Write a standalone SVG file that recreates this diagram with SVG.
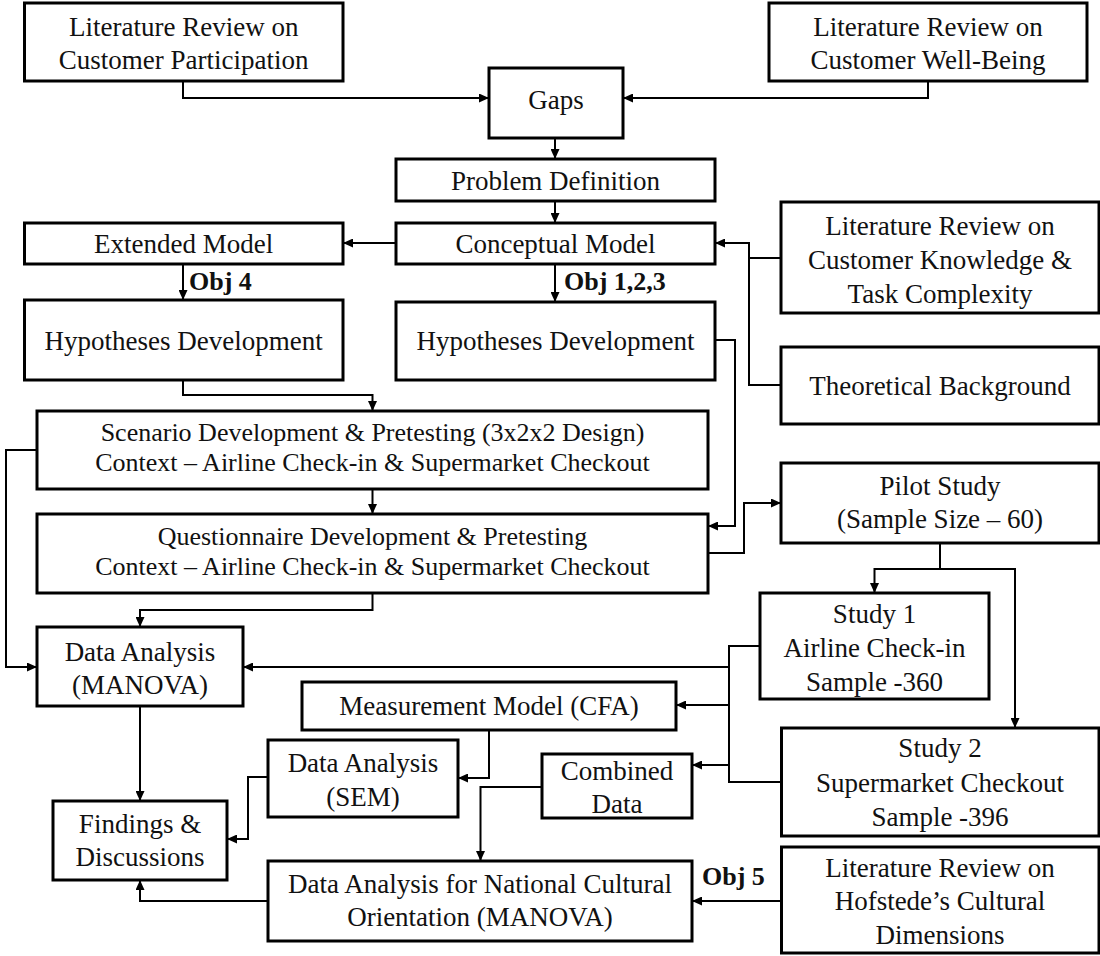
<svg xmlns="http://www.w3.org/2000/svg" width="1100" height="956" viewBox="0 0 1100 956">
  <style>
    .box { fill: #fff; stroke: #000; stroke-width: 3; }
    .lbl { font-family: "Liberation Serif", "Times New Roman", serif; font-size: 27px; fill: #111; text-anchor: middle; }
    .tight { font-size: 26px; }
    .obj { font-family: "Liberation Serif", "Times New Roman", serif; font-size: 26px; font-weight: bold; fill: #111; }
    .wire { fill: none; stroke: #000; stroke-width: 2; }
    .arrow { fill: none; stroke: #000; stroke-width: 2; marker-end: url(#head); }
  </style>
  <defs>
    <marker id="head" markerUnits="userSpaceOnUse" markerWidth="10" markerHeight="9" refX="10" refY="4.5" orient="auto">
      <path d="M0,0 L10,4.5 L0,9 Z" fill="#000"/>
    </marker>
  </defs>
  <rect width="1100" height="956" fill="#fff"/>

  <!-- connectors -->
  <g id="connectors">
    <path class="arrow" d="M183,81 V98 H489"/>
    <path class="arrow" d="M928,81 V98 H623"/>
    <path class="arrow" d="M555,138 V159"/>
    <path class="arrow" d="M555,201 V223"/>
    <path class="arrow" d="M396,243 H343"/>
    <path class="arrow" d="M183,264 V300"/>
    <path class="arrow" d="M555,264 V302"/>
    <path class="arrow" d="M781,258 H749 V243 H715"/>
    <path class="wire" d="M781,385 H749 V243"/>
    <path class="arrow" d="M183,380 V395 H372.5 V411"/>
    <path class="arrow" d="M372.5,489 V514"/>
    <path class="arrow" d="M715,340 H735 V526 H708"/>
    <path class="arrow" d="M708,553 H744 V503 H781"/>
    <path class="arrow" d="M940,543 V569 H874.5 V593"/>
    <path class="arrow" d="M940,569 H1015 V728"/>
    <path class="arrow" d="M37,450 H6 V667 H37"/>
    <path class="arrow" d="M372.5,593 V610 H140 V627"/>
    <path class="arrow" d="M760,646 H729 V667 H243"/>
    <path class="wire" d="M729,667 V782 H781.5"/>
    <path class="arrow" d="M729,705 H676"/>
    <path class="arrow" d="M729,765 H692"/>
    <path class="arrow" d="M489,730 V778 H458"/>
    <path class="arrow" d="M542,787 H480.5 V861"/>
    <path class="arrow" d="M140,706 V801"/>
    <path class="arrow" d="M268,777 H248 V839 H227"/>
    <path class="arrow" d="M268,901 H140 V880"/>
    <path class="arrow" d="M781.5,901 H692"/>
    <text class="obj" x="189" y="290">Obj 4</text>
    <text class="obj" x="564" y="290">Obj 1,2,3</text>
    <text class="obj" x="702" y="885">Obj 5</text>
  </g>

  <!-- nodes -->
  <g id="lit-participation">
    <rect class="box" x="24.5" y="3" width="318.5" height="78"/>
    <text class="lbl" x="183.7" y="36">Literature Review on</text>
    <text class="lbl" x="183.7" y="69">Customer Participation</text>
  </g>
  <g id="lit-wellbeing">
    <rect class="box" x="769" y="3" width="318" height="78"/>
    <text class="lbl" x="928" y="36">Literature Review on</text>
    <text class="lbl" x="928" y="69">Customer Well-Being</text>
  </g>
  <g id="gaps">
    <rect class="box" x="489" y="68" width="134" height="70"/>
    <text class="lbl" x="556" y="109">Gaps</text>
  </g>
  <g id="problem">
    <rect class="box" x="396" y="159" width="319" height="42"/>
    <text class="lbl" x="555.5" y="190">Problem Definition</text>
  </g>
  <g id="conceptual">
    <rect class="box" x="396" y="223" width="319" height="41"/>
    <text class="lbl" x="555.5" y="253">Conceptual Model</text>
  </g>
  <g id="extended">
    <rect class="box" x="24.5" y="223" width="318.5" height="41"/>
    <text class="lbl" x="183.7" y="253">Extended Model</text>
  </g>
  <g id="hypotheses-extended">
    <rect class="box" x="24.5" y="300" width="318.5" height="80"/>
    <text class="lbl" x="183.7" y="350">Hypotheses Development</text>
  </g>
  <g id="hypotheses-conceptual">
    <rect class="box" x="396" y="302" width="319" height="78"/>
    <text class="lbl" x="555.5" y="350">Hypotheses Development</text>
  </g>
  <g id="lit-knowledge">
    <rect class="box" x="781" y="202" width="318" height="111"/>
    <text class="lbl" x="940" y="235">Literature Review on</text>
    <text class="lbl" x="940" y="269">Customer Knowledge &amp;</text>
    <text class="lbl" x="940" y="303">Task Complexity</text>
  </g>
  <g id="theory">
    <rect class="box" x="781" y="347" width="318" height="77"/>
    <text class="lbl" x="940" y="395">Theoretical Background</text>
  </g>
  <g id="scenario">
    <rect class="box" x="37" y="411" width="671" height="78"/>
    <text class="lbl tight" x="372.5" y="441">Scenario Development &amp; Pretesting (3x2x2 Design)</text>
    <text class="lbl tight" x="372.5" y="471">Context – Airline Check-in &amp; Supermarket Checkout</text>
  </g>
  <g id="questionnaire">
    <rect class="box" x="37" y="514" width="671" height="79"/>
    <text class="lbl tight" x="372.5" y="545">Questionnaire Development &amp; Pretesting</text>
    <text class="lbl tight" x="372.5" y="575">Context – Airline Check-in &amp; Supermarket Checkout</text>
  </g>
  <g id="pilot">
    <rect class="box" x="781" y="463" width="318" height="80"/>
    <text class="lbl" x="940" y="495">Pilot Study</text>
    <text class="lbl" x="940" y="528">(Sample Size – 60)</text>
  </g>
  <g id="study1">
    <rect class="box" x="760" y="593" width="229" height="106"/>
    <text class="lbl" x="874.5" y="623">Study 1</text>
    <text class="lbl" x="874.5" y="657">Airline Check-in</text>
    <text class="lbl" x="874.5" y="691">Sample -360</text>
  </g>
  <g id="manova">
    <rect class="box" x="37" y="627" width="206" height="79"/>
    <text class="lbl" x="140" y="661">Data Analysis</text>
    <text class="lbl" x="140" y="694">(MANOVA)</text>
  </g>
  <g id="cfa">
    <rect class="box" x="302" y="682" width="374" height="48"/>
    <text class="lbl" x="489" y="715">Measurement Model (CFA)</text>
  </g>
  <g id="sem">
    <rect class="box" x="268" y="740" width="190" height="77"/>
    <text class="lbl" x="363" y="772">Data Analysis</text>
    <text class="lbl" x="363" y="806">(SEM)</text>
  </g>
  <g id="combined">
    <rect class="box" x="542" y="754" width="150" height="64"/>
    <text class="lbl" x="617" y="780">Combined</text>
    <text class="lbl" x="617" y="813">Data</text>
  </g>
  <g id="study2">
    <rect class="box" x="781.5" y="728" width="317.5" height="108"/>
    <text class="lbl" x="940" y="757">Study 2</text>
    <text class="lbl" x="940" y="792">Supermarket Checkout</text>
    <text class="lbl" x="940" y="826">Sample -396</text>
  </g>
  <g id="findings">
    <rect class="box" x="53" y="801" width="174" height="79"/>
    <text class="lbl" x="140" y="833">Findings &amp;</text>
    <text class="lbl" x="140" y="866">Discussions</text>
  </g>
  <g id="national">
    <rect class="box" x="268" y="861" width="424" height="80"/>
    <text class="lbl" x="480" y="893">Data Analysis for National Cultural</text>
    <text class="lbl" x="480" y="926">Orientation (MANOVA)</text>
  </g>
  <g id="hofstede">
    <rect class="box" x="781.5" y="847" width="317.5" height="106"/>
    <text class="lbl" x="940" y="877">Literature Review on</text>
    <text class="lbl" x="940" y="910">Hofstede’s Cultural</text>
    <text class="lbl" x="940" y="944">Dimensions</text>
  </g>
</svg>
